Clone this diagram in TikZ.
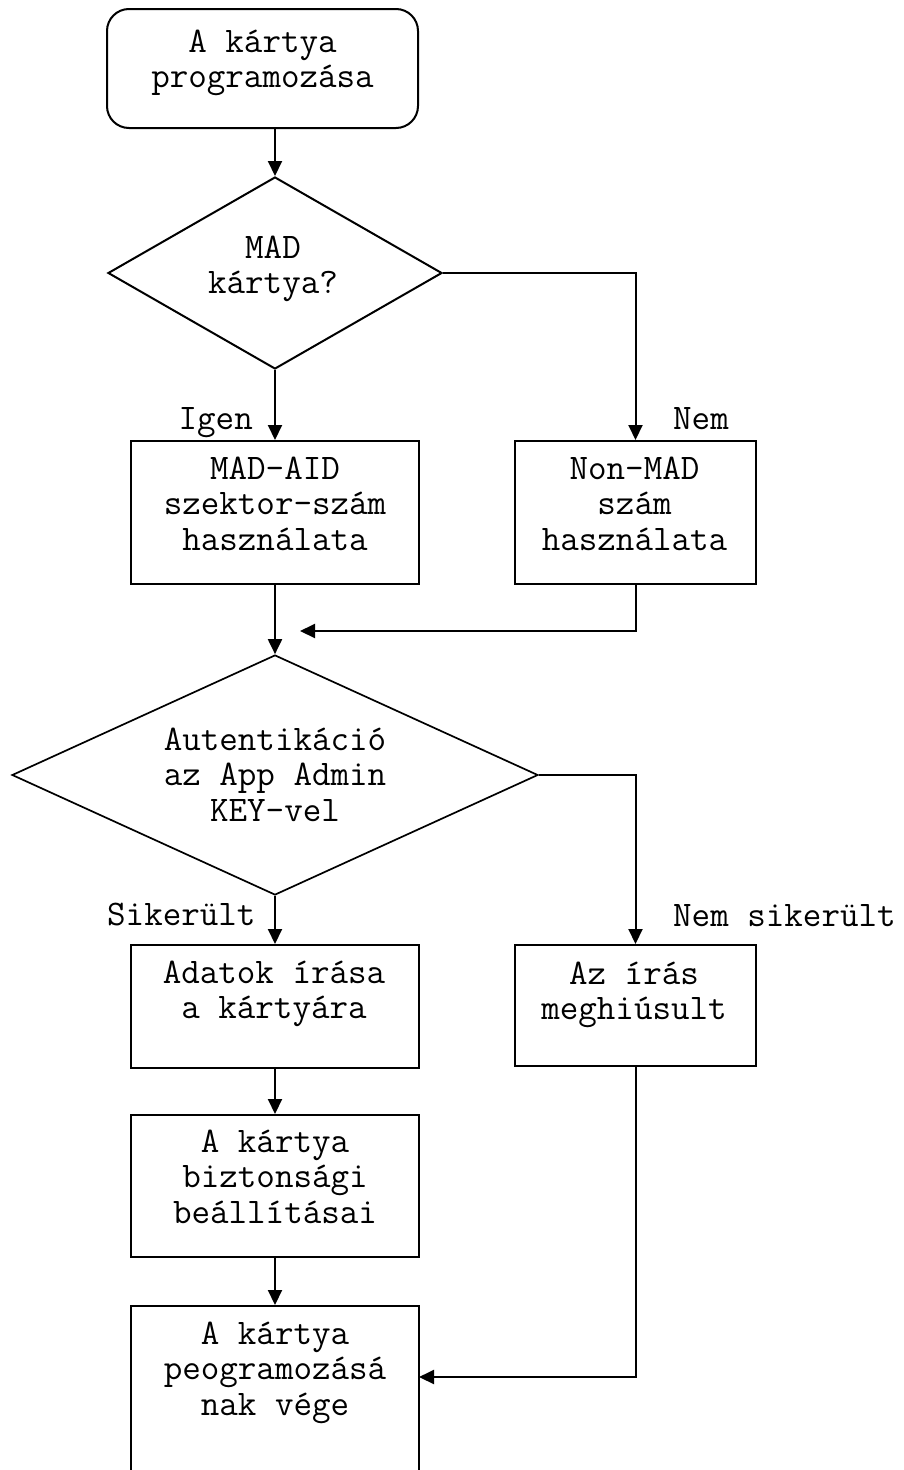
\documentclass[tikz,border=0pt]{standalone}
\usepackage{fontspec}
\usetikzlibrary{arrows.meta,shapes.geometric}
\tikzset{
  txt/.style={font=\ttfamily\fontsize{36pt}{35.5pt}\selectfont, align=center, inner sep=0pt, anchor=north},
  lbl/.style={font=\ttfamily\fontsize{36pt}{35.5pt}\selectfont, inner sep=0pt},
  procbox/.style={draw, line width=2pt, rectangle, inner sep=0pt},
  decbox/.style={draw, line width=2pt, diamond, inner sep=0pt},
  arr/.style={line width=2pt, -{Triangle[length=15pt,width=14pt]}}
}
\begin{document}
\begin{tikzpicture}[x=1pt,y=-1pt]
\clip (0,0) rectangle (904,1470);
\fill[white] (0,0) rectangle (904,1470);
% shapes
\node[procbox, rounded corners=22pt, minimum width=311pt, minimum height=119pt] (start) at (262.5,68.5) {};
\node[decbox, minimum width=334pt, minimum height=192pt] (d1) at (275,273) {};
\node[procbox, minimum width=288pt, minimum height=143pt] (mad) at (275,512.5) {};
\node[procbox, minimum width=241pt, minimum height=143pt] (nonmad) at (635.5,512.5) {};
\node[decbox, line width=1.7pt, minimum width=526pt, minimum height=240pt] (d2) at (275,775) {};
\node[procbox, minimum width=288pt, minimum height=123pt] (write) at (275,1006.5) {};
\node[procbox, minimum width=241pt, minimum height=121pt] (fail) at (635.5,1005.5) {};
\node[procbox, minimum width=288pt, minimum height=142pt] (sec) at (275,1186) {};
\node[procbox, minimum width=288pt, minimum height=194pt] (final) at (275,1403) {};
% texts
\node[txt] (tstart) at (262.5,22) {\rule{0pt}{30pt}A kártya\\programozása};
\node[txt] (td1) at (273,228) {\rule{0pt}{30pt}MAD\\kártya?};
\node[txt] (tmad) at (275,449) {\rule{0pt}{30pt}MAD-AID\\szektor-szám\\használata};
\node[txt] (tnonmad) at (634.5,449) {\rule{0pt}{30pt}Non-MAD\\szám\\használata};
\node[txt] (td2) at (275,720) {\rule{0pt}{30pt}Autentikáció\\az App Admin\\KEY-vel};
\node[txt] (twrite) at (274,953) {\rule{0pt}{30pt}Adatok írása\\a kártyára};
\node[txt] (tfail) at (634,954) {\rule{0pt}{30pt}Az írás\\meghiúsult};
\node[txt] (tsec) at (275,1122) {\rule{0pt}{30pt}A kártya\\biztonsági\\beállításai};
\node[txt] (tfinal) at (275,1314) {\rule{0pt}{30pt}A kártya\\peogramozásá\\nak vége};
% branch labels
\node[lbl, anchor=base east] (ligen) at (253,429) {Igen};
\node[lbl, anchor=base west] (lnem) at (673,429) {Nem};
\node[lbl, anchor=base west] (lsik) at (107,925) {Sikerült};
\node[lbl, anchor=base west] (lnemsik) at (673,926) {Nem sikerült};
% free ends
\coordinate (ret) at (300,631);
\coordinate (endin) at (419,1377);
% connectors
\draw[arr] (d1.north |- start.south) -- (d1.north);
\draw[arr] (d1.south) -- (mad.north);
\draw[arr] (d1.east) -| (nonmad.north);
\draw[arr] (mad.south) -- (d2.north);
\draw[arr] (nonmad.south) |- (ret);
\draw[arr] (d2.east) -| (fail.north);
\draw[arr] (d2.south) -- (write.north);
\draw[arr] (write.south) -- (sec.north);
\draw[arr] (sec.south) -- (final.north);
\draw[arr] (fail.south) |- (endin);
\end{tikzpicture}
\end{document}
